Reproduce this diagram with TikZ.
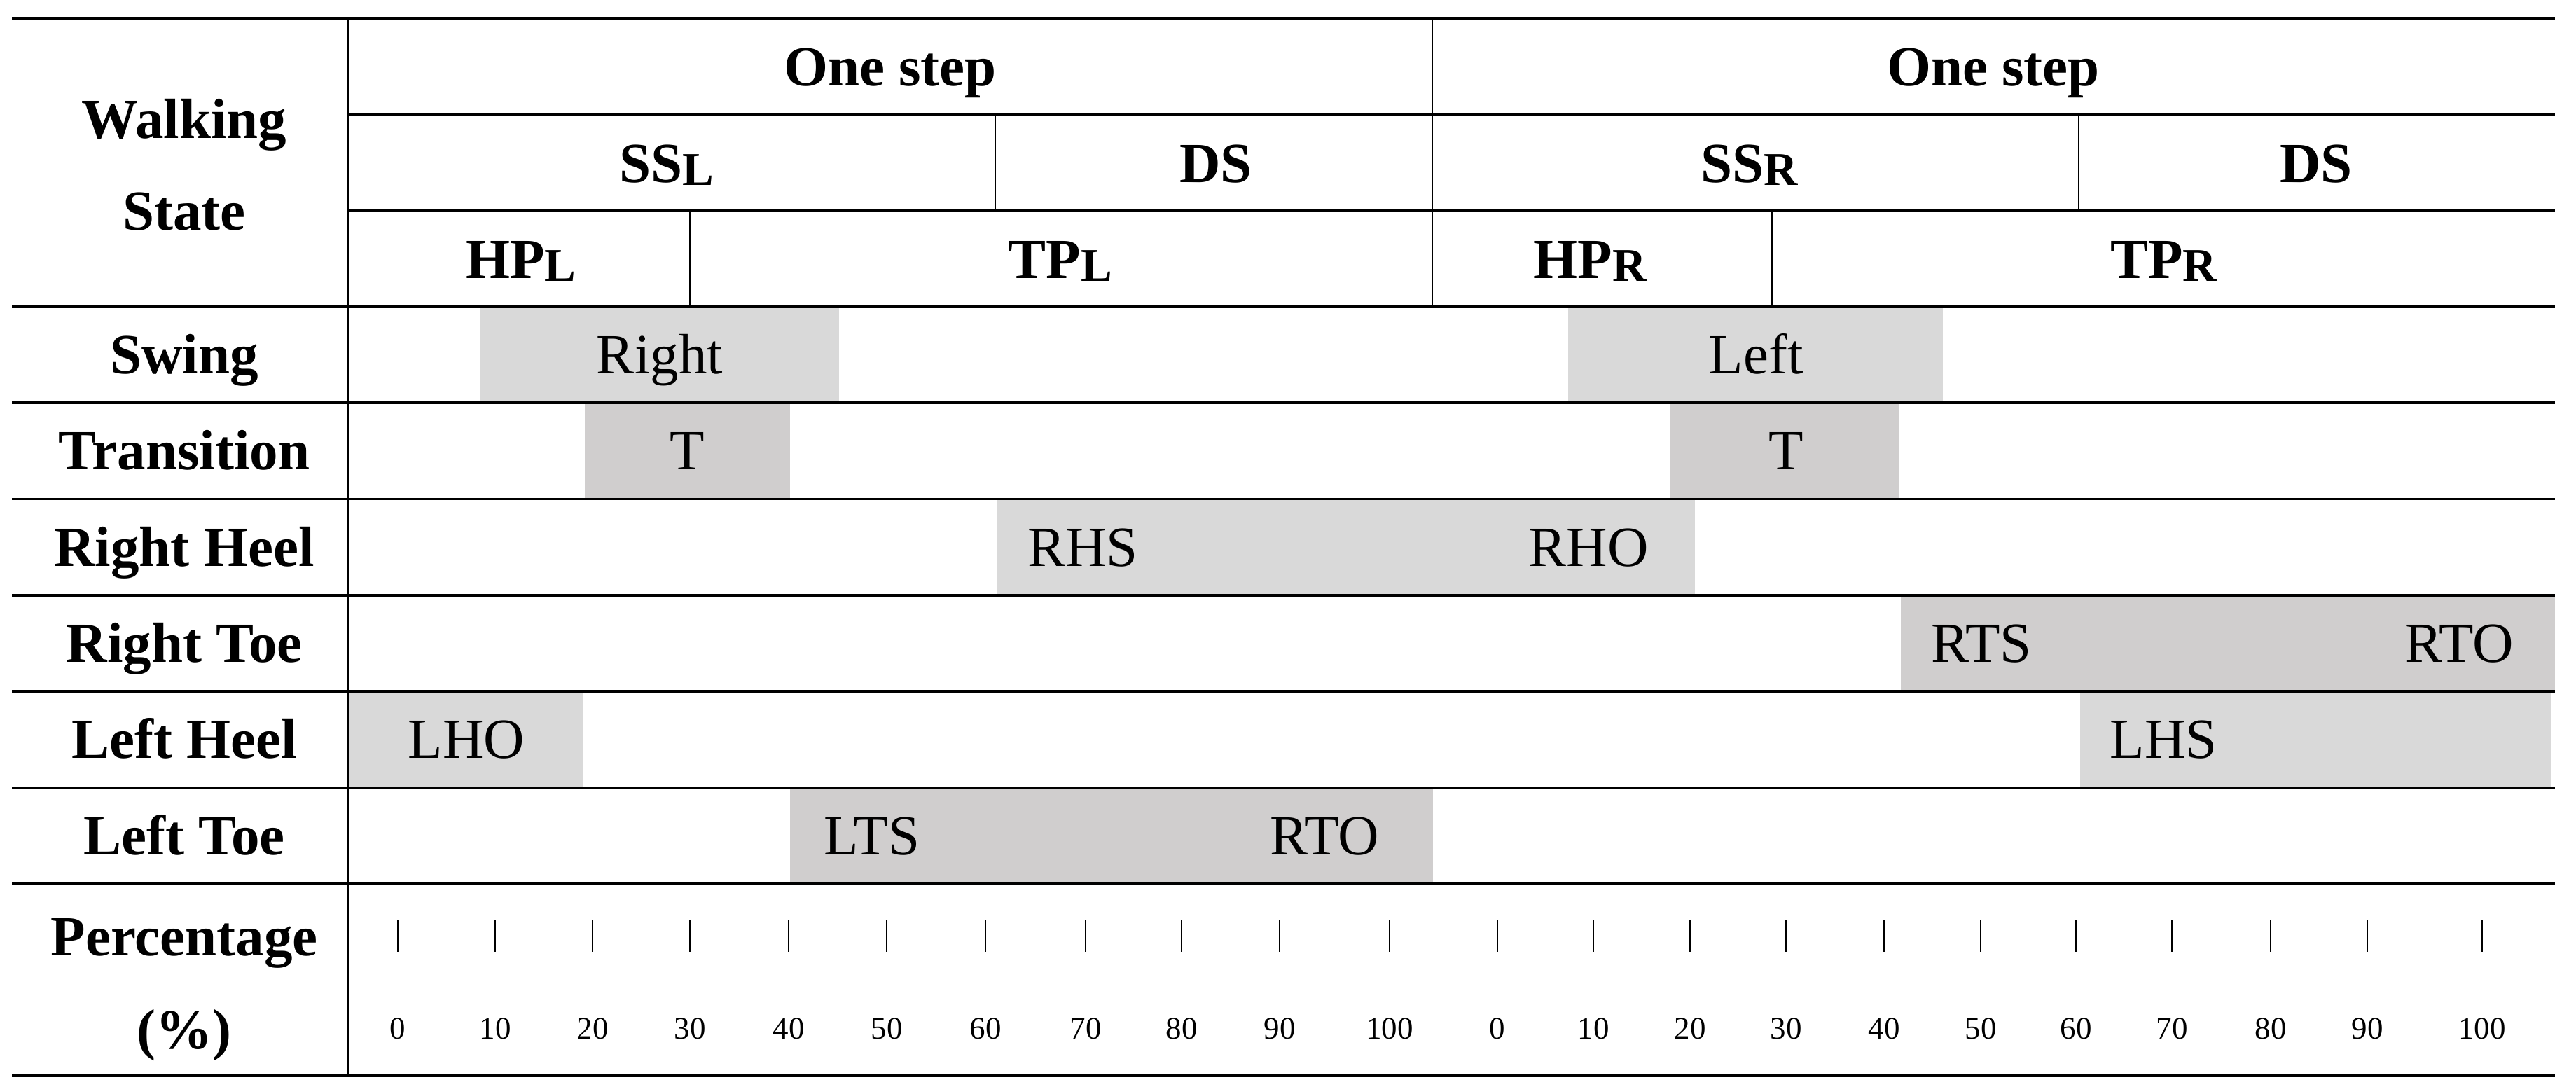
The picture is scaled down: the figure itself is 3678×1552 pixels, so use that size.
\documentclass[tikz,border=0pt]{standalone}
\usepackage{fontspec}
\setmainfont{Liberation Serif}
\definecolor{lightg}{HTML}{D9D9D9}
\definecolor{darkg}{HTML}{D0CECE}
\newcommand\mysub[1]{\raisebox{-4pt}{\fontsize{67}{80}\selectfont #1}}
\tikzset{
  txt/.style={font=\fontsize{81}{97}\selectfont, inner sep=0pt, anchor=base},
  txtb/.style={font=\fontsize{81}{97}\selectfont\bfseries, inner sep=0pt, anchor=base},
  num/.style={font=\fontsize{45}{54}\selectfont, inner sep=0pt, anchor=base},
  hrule/.style={line width=3.5pt},
  vrule/.style={line width=2.5pt},
  tickmark/.style={line width=1.8pt},
  boxlight/.style={fill=lightg},
  boxdark/.style={fill=darkg}
}
\begin{document}
\begin{tikzpicture}[x=1pt,y=-1pt]
\useasboundingbox (0,0) rectangle (3678,1552);
% gray bars
\fill[boxlight] (685,437.9) rectangle (1198,575.2);
\fill[boxlight] (2239,437.9) rectangle (2774,575.2);
\fill[boxdark] (835,575.2) rectangle (1128,712.5);
\fill[boxdark] (2385,575.2) rectangle (2712,712.5);
\fill[boxlight] (1424,712.5) rectangle (2420,849.8);
\fill[boxdark] (2714,849.8) rectangle (3648,987.1);
\fill[boxlight] (497,987.1) rectangle (833,1124.4);
\fill[boxlight] (2970,987.1) rectangle (3642,1124.4);
\fill[boxdark] (1128,1124.4) rectangle (2046,1261.7);
% horizontal rules
\draw[hrule] (17,26) -- (3648,26);
\draw[hrule] (497,163.3) -- (3648,163.3);
\draw[hrule] (497,300.6) -- (3648,300.6);
\foreach \yy in {437.9,575.2,712.5,849.8,987.1,1124.4,1261.7}
  \draw[hrule] (17,\yy) -- (3648,\yy);
\draw[line width=5pt] (17,1535) -- (3648,1535);
% vertical rules
\draw[vrule] (497,26) -- (497,1535);
\draw[vrule] (2045,26) -- (2045,437.9);
\draw[vrule] (1421,163.3) -- (1421,300.6);
\draw[vrule] (2968,163.3) -- (2968,300.6);
\draw[vrule] (985,300.6) -- (985,437.9);
\draw[vrule] (2530,300.6) -- (2530,437.9);
% header texts
\node[txtb] (walk) at (263,197) {Walking};
\node[txtb] (state) at (263,328) {State};
\node[txtb] (step1) at (1271,123) {One step};
\node[txtb] (step2) at (2846,123) {One step};
\node[txtb] (ssl) at (952,260) {SS\mysub{L}};
\node[txtb] (ds1) at (1736,260) {DS};
\node[txtb] (ssr) at (2498,260) {SS\mysub{R}};
\node[txtb] (ds2) at (3307,260) {DS};
\node[txtb] (hpl) at (744,397) {HP\mysub{L}};
\node[txtb] (tpl) at (1514,397) {TP\mysub{L}};
\node[txtb] (hpr) at (2270,397) {HP\mysub{R}};
\node[txtb] (tpr) at (3089,397) {TP\mysub{R}};
% row labels
\node[txtb] (swing) at (263,533.6) {Swing};
\node[txtb] (trans) at (263,670.9) {Transition};
\node[txtb] (rheel) at (263,808.2) {Right Heel};
\node[txtb] (rtoe) at (263,945.5) {Right Toe};
\node[txtb] (lheel) at (263,1082.8) {Left Heel};
\node[txtb] (ltoe) at (263,1220.1) {Left Toe};
\node[txtb] (perc) at (263,1364) {Percentage};
\node[txtb] (pct) at (263,1497) {(\%)};
% bar labels
\node[txt] (right) at (942,533.6) {Right};
\node[txt] (left) at (2507,533.6) {Left};
\node[txt] (t1) at (981,670.9) {T};
\node[txt] (t2) at (2550,670.9) {T};
\node[txt] (rhs) at (1546,808.2) {RHS};
\node[txt] (rho) at (2268,808.2) {RHO};
\node[txt] (rts) at (2829,945.5) {RTS};
\node[txt] (rto1) at (3511,945.5) {RTO};
\node[txt] (lho) at (666,1082.8) {LHO};
\node[txt] (lhs) at (3089,1082.8) {LHS};
\node[txt] (lts) at (1245,1220.1) {LTS};
\node[txt] (rto2) at (1891,1220.1) {RTO};
% percentage scale
\foreach \xx/\lab [count=\i] in {568/0,707/10,846/20,985/30,1126/40,1266/50,1407/60,1550/70,1687/80,1827/90,1984/100}{
  \draw[tickmark] (\xx,1314) -- (\xx,1359);
  \node[num] (pa\i) at (\xx,1483) {\lab};
}
\foreach \xx/\lab [count=\i] in {2138/0,2275/10,2413/20,2550/30,2690/40,2828/50,2964/60,3101/70,3242/80,3380/90,3544/100}{
  \draw[tickmark] (\xx,1314) -- (\xx,1359);
  \node[num] (pb\i) at (\xx,1483) {\lab};
}
\end{tikzpicture}
\end{document}
